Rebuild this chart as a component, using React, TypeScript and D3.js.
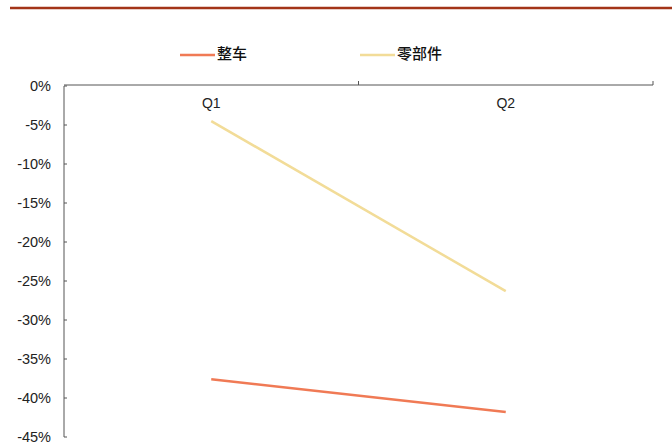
import React from "react";
import * as d3 from "d3";

const categories = ["Q1", "Q2"];
const seriesNames = ["整车", "零部件"];
const vehicle = [-37.6, -41.8];
const parts = [-4.5, -26.3];
const yTicks = [0, -5, -10, -15, -20, -25, -30, -35, -40, -45];
const colors = ["#F07A55", "#F2DC98"];

export default function App() {
  const W = 672, H = 446;
  const left = 64, right = 653, top = 86, bottom = 437;
  const x = d3.scaleBand<string>().domain(categories).range([left, right]);
  const y = d3.scaleLinear().domain([0, -45]).range([top, bottom]);
  const line = d3
    .line<number>()
    .x((_, i) => x(categories[i])! + x.bandwidth() / 2)
    .y((d) => y(d));
  const series = [vehicle, parts];
  const legendX = [180, 360];
  return (
    <svg width={W} height={H} style={{ position: "absolute", left: 0, top: 0 }} fontFamily="Liberation Sans, Arial, sans-serif">
      <rect width={W} height={H} fill="#fff" />
      <line x1={10} x2={672} y1={8} y2={8} stroke="#A33418" strokeWidth={2.5} />
      {seriesNames.map((n, i) => (
        <g key={n}>
          <line x1={legendX[i]} x2={legendX[i] + 35} y1={55} y2={55} stroke={colors[i]} strokeWidth={2.5} />
          <text x={legendX[i] + 37} y={54} dy="0.35em" fontSize={15} fontFamily="Noto Sans CJK SC" fontWeight={500} fill="#111">
            {n}
          </text>
        </g>
      ))}
      {/* y axis */}
      <line x1={left} x2={left} y1={top} y2={bottom} stroke="#555" strokeWidth={1} />
      {yTicks.map((t) => (
        <g key={t}>
          <line x1={left} x2={left + 3} y1={y(t)} y2={y(t)} stroke="#555" />
          <text x={51} y={y(t)} dy="0.35em" textAnchor="end" fontSize={14.5} fill="#222">
            {t + "%"}
          </text>
        </g>
      ))}
      {/* x axis at top */}
      <line x1={left} x2={right} y1={top - 1} y2={top - 1} stroke="#555" strokeWidth={1} />
      {categories.map((c) => (
        <g key={c}>
          <line x1={x(c)! + x.bandwidth()} x2={x(c)! + x.bandwidth()} y1={top - 1} y2={top - 5} stroke="#555" />
          <text x={x(c)! + x.bandwidth() / 2} y={103} dy="0.35em" textAnchor="middle" fontSize={14} fill="#222">
            {c}
          </text>
        </g>
      ))}
      {series.map((s, i) => (
        <path key={i} d={line(s)!} fill="none" stroke={colors[i]} strokeWidth={2.5} />
      ))}
    </svg>
  );
}
